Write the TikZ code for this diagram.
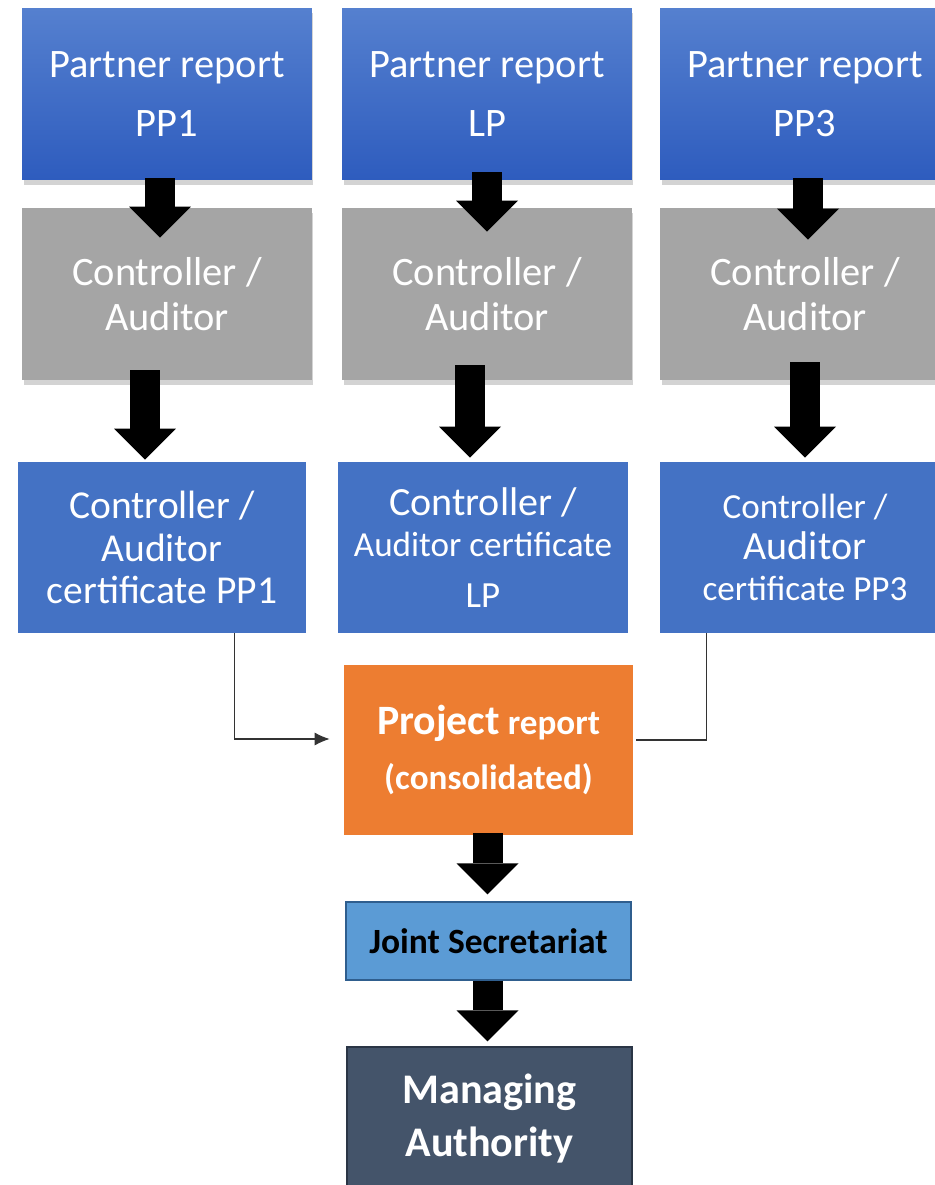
\documentclass[tikz,border=0pt]{standalone}
\usepackage{fontspec}
\setmainfont{Carlito}
\usepackage{xcolor}
\usetikzlibrary{positioning,calc,arrows.meta,shadows}

\definecolor{reptop}{HTML}{5580CF}
\definecolor{repbot}{HTML}{2E5CBE}
\definecolor{ctrlgray}{HTML}{A5A5A5}
\definecolor{certblue}{HTML}{4472C4}
\definecolor{projorange}{HTML}{ED7D31}
\definecolor{jsblue}{HTML}{5B9BD5}
\definecolor{jsborder}{HTML}{2F5E8E}
\definecolor{maslate}{HTML}{44546A}
\definecolor{maborder}{HTML}{2A3545}

\newcommand{\certbig}{\fontsize{22.8}{24.4}\selectfont}
\newcommand{\certsmall}{\fontsize{20}{23.2}\selectfont}

\begin{document}
\begin{tikzpicture}[x=0.02cm,y=-0.02cm,
	box/.style={rectangle,inner sep=0pt,align=center,text=white,minimum width=5.8cm,minimum height=3.44cm},
	shade/.style={drop shadow={shadow xshift=0.03cm,shadow yshift=-0.1cm,opacity=0.35}},
	partner/.style={box,shade,top color=reptop,bottom color=repbot,font=\fontsize{23}{33.5}\selectfont},
	control/.style={box,shade,fill=ctrlgray,font=\fontsize{23}{25.5}\selectfont},
	cert/.style={box,fill=certblue,minimum height=3.42cm},
	fat/.style={line width=0.6cm,-{Triangle[width=1.24cm,length=0.62cm,line width=0pt]}},
	link/.style={line width=0.6pt,draw=black!80}]
	\useasboundingbox (0,0) rectangle (934,1185);
	% partner reports
	\node[partner] (pp1) at (167,94) {Partner report\\PP1};
	\node[partner] (lp) at (487,94) {Partner report\\LP};
	\node[partner] (pp3) at (805,94) {Partner report\\PP3};
	% controllers
	\node[control] (ctrl1) at (167,294) {Controller /\\Auditor};
	\node[control] (ctrl2) at (487,294) {Controller /\\Auditor};
	\node[control] (ctrl3) at (805,294) {Controller /\\Auditor};
	% certificates
	\node[cert,minimum width=5.76cm,font=\fontsize{22.5}{24.4}\selectfont] (cert1) at (162,547.5) {Controller /\\Auditor\\certificate PP1};
	\node[cert,font=\certsmall] (cert2) at (483,547.5) {{\certbig Controller /}\\Auditor certificate\\[6pt]{\fontsize{21}{23.2}\selectfont LP}};
	\node[cert,font=\certsmall] (cert3) at (805,547.5) {Controller /\\{\certbig Auditor}\\certificate PP3};
	% consolidated report
	\node[box,fill=projorange,minimum width=5.78cm,minimum height=3.4cm,font=\bfseries\fontsize{20}{31}\selectfont] (proj) at (488.5,750) {{\fontsize{23.8}{31}\selectfont Project} report\\(consolidated)};
	\node[box,fill=jsblue,draw=jsborder,line width=0.8pt,text=black,minimum width=5.7cm,minimum height=1.56cm,font=\bfseries\fontsize{20.2}{24}\selectfont] (js) at (488.5,941) {Joint Secretariat};
	\node[box,fill=maslate,draw=maborder,line width=0.8pt,minimum width=5.7cm,minimum height=2.86cm,font=\bfseries\fontsize{24}{30}\selectfont] (ma) at (489.5,1118.5) {Managing\\Authority};
	% block arrows
	\draw[fat] ($(pp1.south)+(-7,-2)$) -- ($(ctrl1.north)+(-7,30)$);
	\draw[fat] ($(lp.south)+(0,-8)$) -- ($(ctrl2.north)+(0,24)$);
	\draw[fat] ($(pp3.south)+(3,-2)$) -- ($(ctrl3.north)+(3,32)$);
	\draw[fat] ($(ctrl1.south)+(-22,-10)$) -- ($(cert1.north)+(-17,-2)$);
	\draw[fat] ($(ctrl2.south)+(-17,-15)$) -- ($(cert2.north)+(-13,-4)$);
	\draw[fat] ($(ctrl3.south)+(0,-18)$) -- ($(cert3.north)+(0,-4)$);
	\draw[fat] ($(proj.south)+(-1,-2)$) -- ($(js.north)+(-1,-7)$);
	\draw[fat] ($(js.south)+(-1,0)$) -- ($(ma.north)+(-2,-5)$);
	% thin connectors
	\draw[link,-{Latex[length=0.3cm,width=0.26cm]}] ($(cert1.south west)!0.75!(cert1.south east)$) |- ($(proj.west)+(-14,-11)$);
	\draw[link] ($(cert3.south west)!0.16!(cert3.south east)$) |- ($(proj.east)+(3,-10)$);
\end{tikzpicture}
\end{document}
